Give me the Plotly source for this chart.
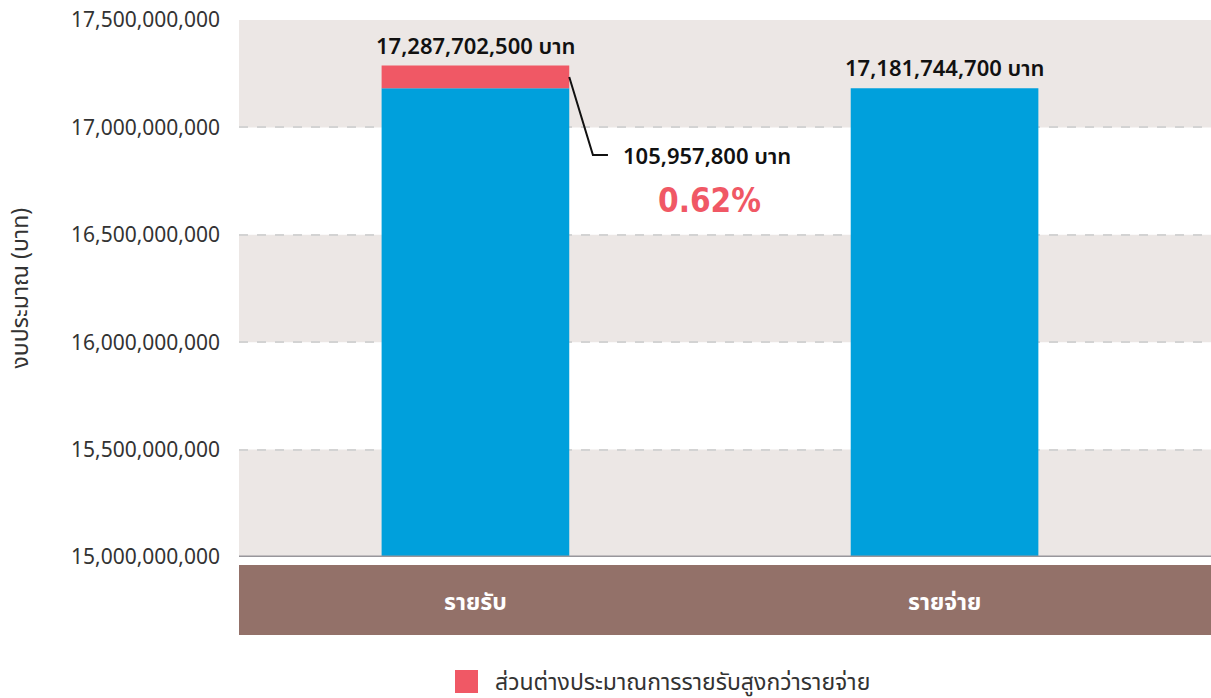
import plotly.graph_objects as go

# Budget figures (baht)
categories = ["รายรับ", "รายจ่าย"]
base_values = [17181744700, 17181744700]      # blue portion of each bar
surplus_values = [105957800, None]            # income above expenditure
total_labels = ["17,287,702,500 บาท", "17,181,744,700 บาท"]
y_ticks = [15000000000, 15500000000, 16000000000, 16500000000, 17000000000, 17500000000]
legend_label = "ส่วนต่างประมาณการรายรับสูงกว่ารายจ่าย"
y_title = "งบประมาณ (บาท)"

BLUE = "#00a0dc"
RED = "#f05865"
BAND = "#ece7e5"
BROWN = "#937169"
TEXT = "#333333"
FONT = "Noto Sans, Noto Sans Thai, Tahoma, sans-serif"

income_total = base_values[0] + surplus_values[0]
surplus = surplus_values[0]
pct = surplus / base_values[1] * 100

BAR_W = 0.4
xs = list(range(len(categories)))

fig = go.Figure()
fig.add_trace(go.Bar(x=xs, y=base_values, width=BAR_W, marker=dict(color=BLUE, line=dict(width=0)),
                     showlegend=False, hoverinfo="skip"))
fig.add_trace(go.Bar(x=xs, y=surplus_values, base=[base_values[0], None], width=BAR_W,
                     marker=dict(color=RED, line=dict(width=0)),
                     name=legend_label, showlegend=False, hoverinfo="skip"))

shapes = []
# alternating horizontal bands
for lo, hi in [(17.0e9, 17.5e9), (16.0e9, 16.5e9), (15.0e9, 15.5e9)]:
    shapes.append(dict(type="rect", xref="paper", yref="y", x0=0, x1=1, y0=lo, y1=hi,
                       fillcolor=BAND, line=dict(width=0), layer="below"))
# baseline
shapes.append(dict(type="line", xref="paper", yref="y", x0=0, x1=1, y0=y_ticks[0], y1=y_ticks[0],
                   line=dict(color="#98969b", width=3), layer="above"))
# category strip
shapes.append(dict(type="rect", xref="paper", yref="paper", x0=0, x1=1, y0=-0.1453, y1=-0.0149,
                   fillcolor=BROWN, line=dict(width=0)))
# callout leader for the surplus segment
x_edge = xs[0] + BAR_W / 2
y_mid = income_total - surplus / 2
y_lbl = 16.8715e9
shapes.append(dict(type="path", xref="x", yref="y",
                   path=f"M {x_edge},{y_mid} L 0.2505,{y_lbl} L 0.2825,{y_lbl}",
                   line=dict(color="#111111", width=2)))
# legend swatch
shapes.append(dict(type="rect", xref="paper", yref="paper",
                   x0=(455 - 239) / 972, x1=(478 - 239) / 972,
                   y0=(557 - 693) / 537, y1=(557 - 670) / 537,
                   fillcolor=RED, line=dict(width=0)))

annotations = []
tops = [income_total, base_values[1]]
for x, top, lbl in zip(xs, tops, total_labels):
    annotations.append(dict(x=x, y=top, xref="x", yref="y", text=lbl, showarrow=False,
                            yanchor="bottom", yshift=4,
                            font=dict(family=FONT, size=22, color="#111111", weight=600)))
for x, c in zip(xs, categories):
    annotations.append(dict(x=x, y=(557 - 601) / 537, xref="x", yref="paper", text=c,
                            showarrow=False, yanchor="middle",
                            font=dict(family=FONT, size=23, color="white", weight="bold")))
annotations.append(dict(x=0.3113, y=y_lbl, xref="x", yref="y", text=f"{surplus:,.0f} บาท",
                        showarrow=False, xanchor="left", yanchor="middle",
                        font=dict(family=FONT, size=22, color="#111111", weight=600)))
annotations.append(dict(x=0.5, y=16.662e9, xref="x", yref="y", text=f"{pct:.2f}%",
                        showarrow=False, xanchor="center", yanchor="middle",
                        font=dict(family="DejaVu Sans Condensed, Roboto, sans-serif", size=33,
                                  color=RED, weight="bold")))
annotations.append(dict(x=(493 - 239) / 972, y=(557 - 681) / 537, xref="paper", yref="paper",
                        text=legend_label, showarrow=False, xanchor="left", yanchor="middle",
                        font=dict(family=FONT, size=23, color=TEXT)))
annotations.append(dict(x=(18 - 239) / 972, y=0.5, xref="paper", yref="paper", text=y_title,
                        textangle=-90, showarrow=False, xanchor="center", yanchor="middle",
                        font=dict(family=FONT, size=23, color=TEXT)))

fig.update_layout(
    width=1211, height=698,
    margin=dict(l=239, r=0, t=20, b=141),
    paper_bgcolor="white", plot_bgcolor="white",
    barmode="overlay",
    showlegend=False,
    shapes=shapes, annotations=annotations,
    xaxis=dict(range=[-0.504, 1.568], showticklabels=False, showgrid=False, zeroline=False,
               showline=False, fixedrange=True),
    yaxis=dict(range=[y_ticks[0], y_ticks[-1]], tickvals=y_ticks, tickformat=",d",
               showgrid=True, gridcolor="#d3d3d3", gridwidth=2, griddash="dash",
               zeroline=False, showline=False, ticks="", ticklabelstandoff=18,
               tickfont=dict(family=FONT, size=21, color=TEXT), fixedrange=True),
)

fig.write_html("out.html")
